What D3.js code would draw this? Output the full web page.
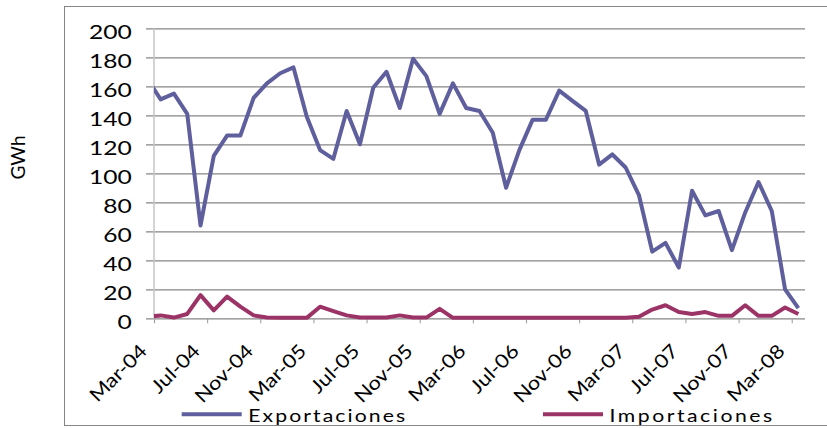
<!DOCTYPE html>
<html>
<head>
<meta charset="utf-8">
<script src="https://cdn.jsdelivr.net/npm/d3@7"></script>
<style>
  body { margin: 0; background: #fff; }
  svg text { font-family: Lato, "Open Sans", sans-serif; fill: #000; }
</style>
</head>
<body>
<div id="chart"></div>
<script>
// months (first one, Feb-04, sits just outside the axis and gets clipped)
var months = ["Feb-04","Mar-04","Apr-04","May-04","Jun-04","Jul-04","Aug-04","Sep-04","Oct-04","Nov-04","Dec-04",
  "Jan-05","Feb-05","Mar-05","Apr-05","May-05","Jun-05","Jul-05","Aug-05","Sep-05","Oct-05","Nov-05","Dec-05",
  "Jan-06","Feb-06","Mar-06","Apr-06","May-06","Jun-06","Jul-06","Aug-06","Sep-06","Oct-06","Nov-06","Dec-06",
  "Jan-07","Feb-07","Mar-07","Apr-07","May-07","Jun-07","Jul-07","Aug-07","Sep-07","Oct-07","Nov-07","Dec-07",
  "Jan-08","Feb-08","Mar-08"];

var exportaciones = [165,151,155,141,64,112,126,126,152,162,169,
  173,139,116,110,143,120,159,170,145,179,167,141,
  162,145,143,128,90,116,137,137,157,150,143,106,
  113,104,85,46,52,35,88,71,74,47,73,94,
  74,20,7];

var importaciones = [1,2,0.5,3,16,5.5,15,8,2,0.5,0.3,
  0.3,0.3,8,5,2,0.5,0.5,0.5,2,0.5,0.5,6.5,
  0.3,0.3,0.3,0.3,0.3,0.3,0.3,0.3,0.3,0.3,0.3,0.3,
  0.3,0.3,1,6,9,4.3,3,4.3,1.7,1.7,9,1.7,
  1.7,7.4,3];

var tickLabels = ["Mar-04","Jul-04","Nov-04","Mar-05","Jul-05","Nov-05","Mar-06",
  "Jul-06","Nov-06","Mar-07","Jul-07","Nov-07","Mar-08"];

var yTicks = [0,20,40,60,80,100,120,140,160,180,200];

var series = [
  {name: "Exportaciones", values: exportaciones, color: "#5f5f9e"},
  {name: "Importaciones", values: importaciones, color: "#9c3366"}
];

var W = 827, H = 428;
var margin = {top: 28.3, right: 22, bottom: 109.7, left: 154};
var width = W - margin.left - margin.right,
    height = H - margin.top - margin.bottom;
var stretch = 1.33;

var svg = d3.select("#chart").append("svg")
    .attr("width", W)
    .attr("height", H);

// outer chart frame
svg.append("rect")
    .attr("x", 64.5).attr("y", 6.5)
    .attr("width", W).attr("height", 419)
    .attr("fill", "none")
    .attr("stroke", "#868686");

var g = svg.append("g")
    .attr("transform", "translate(" + margin.left + "," + margin.top + ")");

// date-like axis: Mar-04 .. Mar-08 shown, categories centred between ticks
var x = d3.scaleLinear()
    .domain([months.indexOf("Mar-04") - 0.5, months.indexOf("Mar-08") + 0.5])
    .range([0, width]);

var y = d3.scaleLinear()
    .domain([0, 200])
    .range([height, 0]);

g.append("defs").append("clipPath")
    .attr("id", "plot-clip")
  .append("rect")
    .attr("x", 0).attr("y", -10)
    .attr("width", width).attr("height", height + 20);

// gridlines + value labels
var yAxis = g.append("g")
    .call(d3.axisLeft(y).tickValues(yTicks).tickSize(-width - 8).tickFormat(d3.format("d")))
    .attr("transform", "translate(-8,0)");
yAxis.select(".domain").remove();
yAxis.selectAll(".tick line")
    .attr("stroke", "#868686")
    .attr("stroke-width", 1.2);
yAxis.selectAll(".tick text")
    .attr("x", null).attr("dy", null)
    .attr("text-anchor", "end")
    .attr("font-size", "18.5px")
    .attr("transform", "translate(-14.3,10) scale(" + stretch + ",1)");

// category axis: ticks every 4 months on the boundaries
var tickIdx = tickLabels.map(function(d) { return months.indexOf(d); });
var xAxis = g.append("g")
    .attr("transform", "translate(0," + height + ")")
    .call(d3.axisBottom(x)
      .tickValues(tickIdx.map(function(i) { return i - 0.5; }))
      .tickSize(5)
      .tickFormat(""));
xAxis.select(".domain").remove();
xAxis.selectAll(".tick line").attr("stroke", "#9a9a9a");

g.append("line")
    .attr("x1", 0).attr("x2", 0)
    .attr("y1", 0).attr("y2", height + 1)
    .attr("stroke", "#c4c4c4")
    .attr("stroke-width", 1.5);

g.selectAll(".xlabel")
    .data(tickLabels)
  .enter().append("text")
    .attr("class", "xlabel")
    .attr("text-anchor", "end")
    .attr("font-size", "19px")
    .attr("transform", function(d) {
      return "translate(" + (x(months.indexOf(d)) - 12.5) + "," + (height + 34) + ") rotate(-45) scale(1.15,1)";
    })
    .text(function(d) { return d; });

// y axis title
svg.append("text")
    .attr("text-anchor", "middle")
    .attr("font-size", "19px")
    .attr("transform", "translate(25,157.5) rotate(-90)")
    .text("GWh");

// the two series
var line = d3.line()
    .x(function(d, i) { return x(i); })
    .y(function(d) { return y(d); });

g.append("g")
    .attr("clip-path", "url(#plot-clip)")
  .selectAll(".series")
    .data(series)
  .enter().append("path")
    .attr("class", "series")
    .attr("fill", "none")
    .attr("stroke", function(d) { return d.color; })
    .attr("stroke-width", 4)
    .attr("stroke-linejoin", "round")
    .attr("d", function(d) { return line(d.values); });

// legend
var legendX = [181.7, 543];
var legendW = [157, 162.7];
var legend = svg.selectAll(".legend")
    .data(series)
  .enter().append("g")
    .attr("class", "legend")
    .attr("transform", function(d, i) { return "translate(" + legendX[i] + ",414.3)"; });
legend.append("line")
    .attr("x1", 0).attr("x2", 60)
    .attr("stroke", function(d) { return d.color; })
    .attr("stroke-width", 4);
legend.append("text")
    .attr("font-size", "16.3px")
    .attr("transform", "translate(66.5,7.4) scale(1.3,1)")
    .attr("textLength", function(d, i) { return legendW[i] / 1.3; })
    .attr("lengthAdjust", "spacing")
    .text(function(d) { return d.name; });
</script>
</body>
</html>
